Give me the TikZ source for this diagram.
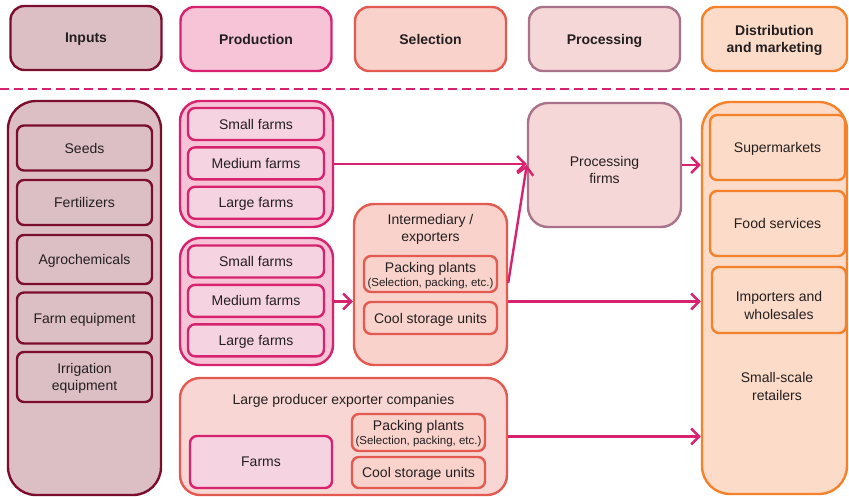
\documentclass[tikz,border=0pt]{standalone}
\usepackage{fontspec}
\setmainfont{Liberation Sans}
\usetikzlibrary{arrows.meta,positioning}

\definecolor{inputline}{HTML}{7B0E2D}
\definecolor{inputfill}{HTML}{DCBFC5}
\definecolor{prodline}{HTML}{D6226F}
\definecolor{prodfill}{HTML}{F7C4D7}
\definecolor{farmfill}{HTML}{F5D3E1}
\definecolor{selline}{HTML}{E25A50}
\definecolor{selfill}{HTML}{F9D2CC}
\definecolor{lpefill}{HTML}{F8D6D4}
\definecolor{procline}{HTML}{A8738A}
\definecolor{procfill}{HTML}{F6D7D7}
\definecolor{distline}{HTML}{F6812B}
\definecolor{distfill}{HTML}{FCDBC8}
\definecolor{txt}{HTML}{231F20}

\tikzset{
  box/.style={draw, line width=2.4pt, rounded corners=7pt, align=center, inner sep=2pt,
    text=txt, text depth=0pt, font=\fontsize{14}{17}\selectfont},
  stage/.style={box, rounded corners=14pt, minimum width=151pt, minimum height=64pt,
    font=\fontsize{14}{17}\selectfont\bfseries},
  group/.style={box, rounded corners=20pt},
  plain/.style={text=txt, align=center, text depth=0pt, font=\fontsize{14}{17.5}\selectfont},
  farm/.style={box, fill=farmfill, draw=prodline, minimum width=136pt, minimum height=32pt},
  unit/.style={box, fill=selfill, draw=selline, minimum width=133pt},
  flow/.style={draw=prodline, line width=2.4pt, -{Straight Barb[length=8pt,width=16pt]}},
}
\newcommand{\smalltext}[1]{{\fontsize{11.5}{13}\selectfont #1}}

\begin{document}
\begin{tikzpicture}[x=1pt, y=-1pt]
  \useasboundingbox (0,0) rectangle (849,497);

  % stage headers
  \node[stage, fill=inputfill, draw=inputline] (inputs) at (86,38) {Inputs};
  \node[stage, fill=prodfill, draw=prodline] (production) at (256,39) {Production};
  \node[stage, fill=selfill, draw=selline] (selection) at (430.5,39) {Selection};
  \node[stage, fill=procfill, draw=procline] (processing) at (604.5,39) {Processing};
  \node[stage, fill=distfill, draw=distline, minimum width=145pt] (distribution) at (774.5,39) {Distribution\\and marketing};

  % separator
  \coordinate (dashL) at (0,89);
  \coordinate (dashR) at (849,89);
  \draw[prodline, line width=2.4pt, dash pattern=on 9pt off 5pt] (dashL) -- (dashR);

  % inputs
  \node[group, fill=inputfill, draw=inputline, rounded corners=28pt, minimum width=153pt, minimum height=394pt] (inputcol) at (84.5,298) {};
  \node[box, fill=inputfill, draw=inputline, minimum width=135pt, minimum height=45pt] (seeds) at (84.5,148) {Seeds};
  \node[box, fill=inputfill, draw=inputline, minimum width=135pt, minimum height=45pt] (fert) at (84.5,202.5) {Fertilizers};
  \node[box, fill=inputfill, draw=inputline, minimum width=135pt, minimum height=49pt] (agro) at (84.5,259.5) {Agrochemicals};
  \node[box, fill=inputfill, draw=inputline, minimum width=135pt, minimum height=51pt] (equip) at (84.5,318) {Farm equipment};
  \node[box, fill=inputfill, draw=inputline, minimum width=135pt, minimum height=50pt] (irrig) at (84.5,377) {Irrigation\\equipment};

  % production
  \node[group, fill=prodfill, draw=prodline, minimum width=153pt, minimum height=126pt] (farms1) at (256.5,164) {};
  \node[farm] (small1) at (256,124) {Small farms};
  \node[farm, below=5pt of small1] (medium1) {Medium farms};
  \node[farm, below=5pt of medium1] (large1) {Large farms};

  \node[group, fill=prodfill, draw=prodline, minimum width=153pt, minimum height=127pt] (farms2) at (256.5,301.5) {};
  \node[farm] (small2) at (256,261.5) {Small farms};
  \node[farm, below=5pt of small2] (medium2) {Medium farms};
  \node[farm, below=5pt of medium2] (large2) {Large farms};

  % selection
  \node[group, fill=selfill, draw=selline, minimum width=153pt, minimum height=161pt] (inter) at (430.5,284.5) {};
  \node[plain] (intertitle) at (430.5,228) {Intermediary /\\exporters};
  \node[unit, minimum height=36pt] (pack1) at (430.5,274) {Packing plants\\[-3pt]\smalltext{(Selection, packing, etc.)}};
  \node[unit, minimum height=32pt] (cool1) at (430.5,318) {Cool storage units};

  \node[group, fill=lpefill, draw=selline, minimum width=327pt, minimum height=117pt] (lpe) at (343.5,436.5) {};
  \node[plain] (lpetitle) at (343.5,399) {Large producer exporter companies};
  \node[farm, minimum width=142pt, minimum height=52pt] (farms3) at (261,462) {Farms};
  \node[unit, minimum height=37pt] (pack2) at (418.5,432.5) {Packing plants\\[-3pt]\smalltext{(Selection, packing, etc.)}};
  \node[unit, minimum height=31pt] (cool2) at (418.5,472.5) {Cool storage units};

  % processing
  \node[group, fill=procfill, draw=procline, minimum width=153pt, minimum height=124pt] (procfirms) at (604.5,165) {};
  \node[plain] (procfirmstext) at (604.5,170) {Processing\\firms};

  % distribution and marketing
  \node[group, fill=distfill, draw=distline, rounded corners=28pt, minimum width=145pt, minimum height=392pt] (distcol) at (774.5,298) {};
  \node[box, fill=distfill, draw=distline, minimum width=135pt, minimum height=65pt] (super) at (777.5,147.5) {Supermarkets};
  \node[box, fill=distfill, draw=distline, minimum width=135pt, minimum height=65pt] (food) at (777.5,223.5) {Food services};
  \node[box, fill=distfill, draw=distline, minimum width=134pt, minimum height=66pt] (import) at (779,300) {};
  \node[plain] (importtext) at (779,305.5) {Importers and\\wholesales};
  \node[plain] (retail) at (777,386.5) {Small-scale\\retailers};

  % flows
  \coordinate[yshift=-9pt] (packout) at (pack1.east -| inter.east);
  \draw[flow] (farms1.east) -- (procfirms.west |- farms1.east);
  \draw[flow] (packout) -- (procfirms.west);
  \draw[flow] (procfirms.east) -- (distcol.west |- procfirms.east);
  \draw[flow] (farms2.east) -- (inter.west |- farms2.east);
  \draw[flow] (inter.east |- farms2.east) -- (distcol.west |- farms2.east);
  \draw[flow] (lpe.east) -- (distcol.west |- lpe.east);
\end{tikzpicture}
\end{document}
